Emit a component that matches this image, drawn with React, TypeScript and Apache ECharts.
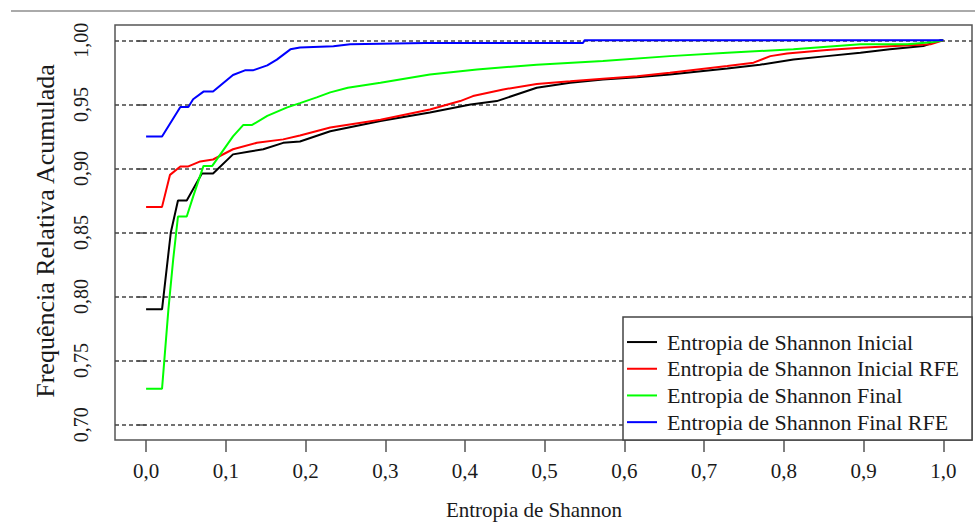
import React, { useEffect, useRef } from "react";
import * as echarts from "echarts";

const seriesNames = [
  "Entropia de Shannon Inicial",
  "Entropia de Shannon Inicial RFE",
  "Entropia de Shannon Final",
  "Entropia de Shannon Final RFE",
];

const xTicks = [0, 0.1, 0.2, 0.3, 0.4, 0.5, 0.6, 0.7, 0.8, 0.9, 1.0];
const yTicks = [0.7, 0.75, 0.8, 0.85, 0.9, 0.95, 1.0];

const inicialX = [0, 0.02, 0.031, 0.04, 0.051, 0.07, 0.084, 0.109, 0.13, 0.147, 0.172, 0.193, 0.231, 0.294, 0.356, 0.407, 0.44, 0.49, 0.532, 0.573, 0.616, 0.657, 0.729, 0.77, 0.812, 0.854, 0.896, 0.933, 0.975, 0.996, 1.0];
const inicialY = [0.79, 0.79, 0.85, 0.875, 0.875, 0.896, 0.896, 0.911, 0.9133, 0.915, 0.92, 0.921, 0.929, 0.937, 0.9437, 0.95, 0.9526, 0.963, 0.967, 0.9695, 0.9713, 0.9734, 0.978, 0.981, 0.985, 0.9877, 0.9904, 0.993, 0.9956, 1.0, 1.0];

const inicialRfeX = [0, 0.02, 0.03, 0.043, 0.053, 0.068, 0.084, 0.109, 0.139, 0.172, 0.193, 0.231, 0.294, 0.356, 0.394, 0.41, 0.448, 0.49, 0.532, 0.573, 0.616, 0.657, 0.729, 0.762, 0.783, 0.804, 0.854, 0.896, 0.933, 0.984, 1.0];
const inicialRfeY = [0.87, 0.87, 0.895, 0.9016, 0.9016, 0.9055, 0.907, 0.915, 0.92, 0.9227, 0.9258, 0.932, 0.938, 0.946, 0.9526, 0.9565, 0.9617, 0.966, 0.968, 0.97, 0.972, 0.9748, 0.98, 0.9826, 0.9877, 0.9898, 0.9924, 0.9943, 0.9955, 0.997, 1.0];

const finalX = [0, 0.02, 0.028, 0.034, 0.04, 0.051, 0.059, 0.072, 0.083, 0.109, 0.122, 0.133, 0.152, 0.177, 0.193, 0.214, 0.231, 0.253, 0.294, 0.356, 0.415, 0.49, 0.573, 0.657, 0.729, 0.812, 0.896, 0.955, 0.988, 1.0];
const finalY = [0.728, 0.728, 0.79, 0.829, 0.8625, 0.8625, 0.878, 0.902, 0.902, 0.925, 0.934, 0.934, 0.941, 0.9477, 0.951, 0.9555, 0.9594, 0.963, 0.967, 0.9734, 0.9773, 0.981, 0.9838, 0.9877, 0.9904, 0.993, 0.9969, 0.997, 0.9987, 1.0];

const finalRfeX = [0, 0.02, 0.043, 0.053, 0.059, 0.072, 0.084, 0.109, 0.124, 0.134, 0.152, 0.164, 0.181, 0.193, 0.235, 0.256, 0.35, 0.548, 0.55, 1.0];
const finalRfeY = [0.925, 0.925, 0.948, 0.948, 0.954, 0.96, 0.96, 0.973, 0.9766, 0.9766, 0.9805, 0.985, 0.993, 0.9945, 0.9955, 0.997, 0.998, 0.998, 1.0, 1.0];

const seriesX = [inicialX, inicialRfeX, finalX, finalRfeX];
const seriesY = [inicialY, inicialRfeY, finalY, finalRfeY];
const seriesColors = ["#000000", "#ff0000", "#00ff00", "#0000ff"];

const FONT = "'Liberation Serif', 'Times New Roman', serif";
const TEXT = "#1a1a1a";

export default function App() {
  const ref = useRef<HTMLDivElement>(null);
  useEffect(() => {
    if (!ref.current) return;
    const chart = echarts.init(ref.current, undefined, { renderer: "svg" });
    const series: any[] = seriesNames.map((name, i) => ({
      name,
      type: "line",
      data: seriesX[i].map((x, j) => [x, seriesY[i][j]]),
      symbol: "none",
      showSymbol: false,
      lineStyle: { color: seriesColors[i], width: 2 },
      itemStyle: { color: seriesColors[i] },
      z: 3,
    }));
    series.push({
      name: "grid-lines",
      type: "line",
      data: [],
      markLine: {
        z: 1,
        silent: true,
        symbol: "none",
        label: { show: false },
        lineStyle: { color: "#444", type: [4, 3], width: 1.5 },
        data: yTicks.map((v) => ({ yAxis: v })),
      },
      z: 1,
    });
    chart.setOption({
      animation: false,
      backgroundColor: "#ffffff",
      textStyle: { fontFamily: FONT },
      grid: {
        left: 115,
        top: 25,
        width: 857,
        height: 415,
        show: true,
        borderColor: "#555",
        borderWidth: 1.5,
        backgroundColor: "transparent",
      },
      xAxis: {
        type: "value",
        min: -0.039,
        max: 1.036,
        axisLine: { show: false },
        splitLine: { show: false },
        axisTick: {
          show: true,
          inside: false,
          length: 12,
          customValues: xTicks,
          lineStyle: { color: "#555", width: 1.5 },
        },
        axisLabel: {
          customValues: xTicks,
          margin: 20,
          fontSize: 21,
          fontFamily: FONT,
          color: TEXT,
          formatter: (v: number) => v.toFixed(1).replace(".", ","),
        },
      },
      yAxis: {
        type: "value",
        min: 0.688,
        max: 1.012,
        axisLine: { show: false },
        splitLine: { show: false },
        axisTick: {
          show: true,
          inside: false,
          length: 9,
          customValues: yTicks,
          lineStyle: { color: "#555", width: 1.5 },
        },
        axisLabel: {
          customValues: yTicks,
          rotate: 90,
          margin: 24,
          fontSize: 20,
          fontFamily: FONT,
          color: TEXT,
          formatter: (v: number) => v.toFixed(2).replace(".", ","),
        },
      },
      legend: {
        orient: "vertical",
        left: 627,
        top: 328.7,
        padding: 0,
        itemGap: 0,
        itemWidth: 30,
        itemHeight: 2,
        icon: "rect",
        data: seriesNames,
        textStyle: {
          fontSize: 22,
          fontFamily: FONT,
          color: TEXT,
          lineHeight: 26.7,
          padding: [0, 0, 0, 5],
        },
        z: 6,
      },
      graphic: [
        {
          type: "line",
          shape: { x1: 11, y1: 11, x2: 975, y2: 11 },
          style: { stroke: "#aaaaaa", lineWidth: 2 },
        },
        {
          type: "rect",
          z: 5,
          shape: { x: 623, y: 317, width: 349, height: 123 },
          style: { fill: "#ffffff", stroke: "#444", lineWidth: 1.5 },
        },
        {
          type: "text",
          x: 534,
          y: 510,
          style: {
            text: "Entropia de Shannon",
            fontSize: 21,
            fontFamily: FONT,
            fill: TEXT,
            align: "center",
            verticalAlign: "middle",
          },
        },
        {
          type: "text",
          x: 45,
          y: 231,
          rotation: Math.PI / 2,
          style: {
            text: "Frequência Relativa Acumulada",
            fontSize: 26,
            fontFamily: FONT,
            fill: TEXT,
            align: "center",
            verticalAlign: "middle",
          },
        },
      ],
      series,
    });
    return () => chart.dispose();
  }, []);
  return (
    <div
      ref={ref}
      style={{ position: "fixed", left: 0, top: 0, width: 975, height: 522 }}
    />
  );
}
